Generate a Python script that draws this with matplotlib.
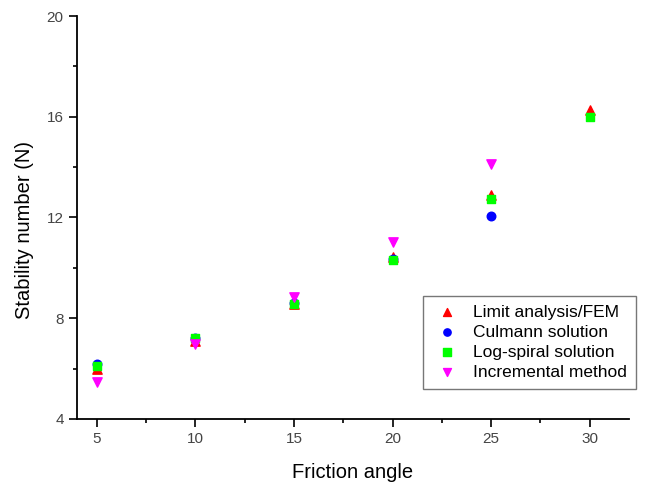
import matplotlib.pyplot as plt
from matplotlib.ticker import MultipleLocator

plt.rcParams["font.family"] = ["Liberation Sans", "DejaVu Sans"]

# Données
angles = [5, 10, 15, 20, 25, 30]
limit_fem = [6.0, 7.1, 8.55, 10.45, 12.9, 16.27]
angles_culmann = [5, 10, 15, 20, 25]
culmann = [6.18, 7.2, 8.6, 10.35, 12.05]
log_spiral = [6.1, 7.22, 8.58, 10.33, 12.72, 16.0]
angles_incr = [5, 10, 15, 20, 25]
incremental = [5.47, 6.98, 8.86, 11.02, 14.12]

fig = plt.figure(figsize=(6.52, 4.86), dpi=100)
ax = fig.add_axes([0.118, 0.138, 0.847, 0.829])

ax.scatter(angles, limit_fem, marker="^", s=45, color="#FF0000", label="Limit analysis/FEM", zorder=3)
ax.scatter(angles_culmann, culmann, marker="o", s=38, color="#0000FF", label="Culmann solution", zorder=3)
ax.scatter(angles, log_spiral, marker="s", s=38, color="#00FF00", label="Log-spiral solution", zorder=4)
ax.scatter(angles_incr, incremental, marker="v", s=45, color="#FF00FF", label="Incremental method", zorder=5)

ax.set_xlim(4, 32)
ax.set_ylim(4, 20)
ax.xaxis.set_major_locator(MultipleLocator(5))
ax.xaxis.set_minor_locator(MultipleLocator(2.5))
ax.yaxis.set_major_locator(MultipleLocator(4))
ax.yaxis.set_minor_locator(MultipleLocator(2))
ax.tick_params(which="major", direction="out", length=6, width=1.2, labelsize=11, labelcolor="#444444")
ax.tick_params(which="minor", direction="out", length=3, width=1.2)

for side in ["top", "right"]:
    ax.spines[side].set_visible(False)
for side in ["left", "bottom"]:
    ax.spines[side].set_linewidth(1.3)

ax.set_xlabel("Friction angle", fontsize=14.5)
ax.set_ylabel("Stability number (N)", fontsize=14.5)
ax.xaxis.set_label_coords(0.5, -0.11)
ax.yaxis.set_label_coords(-0.078, 0.469)

leg = ax.legend(loc="upper left", bbox_to_anchor=(0.649, 0.391), bbox_transform=fig.transFigure,
                fontsize=12.5, frameon=True, fancybox=False, edgecolor="#555555",
                handletextpad=0.7, handlelength=1.7, labelspacing=0.28, borderpad=0.5,
                borderaxespad=0, markerscale=0.85, scatterpoints=1)
leg.get_frame().set_linewidth(1.0)

plt.savefig("out.png", dpi=100)
